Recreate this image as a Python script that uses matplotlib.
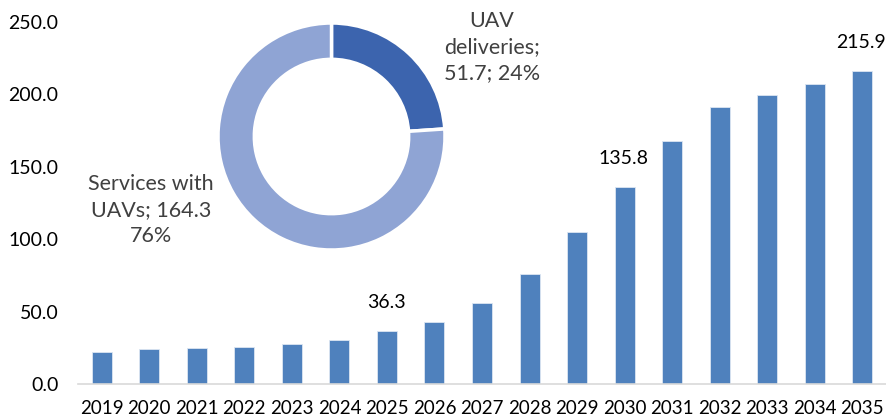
import matplotlib
matplotlib.use("Agg")
import matplotlib.pyplot as plt

years = [str(y) for y in range(2019, 2036)]
values = [22.1, 24.0, 24.9, 25.8, 27.6, 30.4, 36.3, 42.6, 55.7, 75.7, 104.7,
          135.8, 167.8, 191.3, 199.8, 207.4, 215.9]
labeled_years = ["2025", "2030", "2035"]
y_ticks = [0, 50, 100, 150, 200, 250]

donut_labels = ["UAV\ndeliveries;\n51.7; 24%", "Services with\nUAVs; 164.3\n76%"]
donut_values = [51.7, 164.3]

plt.rcParams['font.family'] = ['Lato', 'DejaVu Sans']

W, H = 887, 418
fig = plt.figure(figsize=(W / 100, H / 100), dpi=100)
ax = fig.add_axes([78 / W, 1 - 384 / H, (886 - 78) / W, (384 - 22) / H])

x = list(range(len(years)))
ax.bar(x, values, width=0.42, color="#4F81BD", edgecolor="#DCE6F2", linewidth=0.6, zorder=2)
ax.set_xlim(-0.5, len(years) - 0.5)
ax.set_ylim(0, 250)
ax.set_xticks(x)
ax.set_xticklabels(years, fontsize=13.5, color="black")
ax.set_yticks(y_ticks)
ax.set_yticklabels([f"{v:.1f}" for v in y_ticks], fontsize=14, color="black")
ax.tick_params(axis="both", length=0)
ax.tick_params(axis="y", pad=14)
ax.tick_params(axis="x", pad=11.5)
for s in ["top", "right", "left"]:
    ax.spines[s].set_visible(False)
ax.spines["bottom"].set_color("#D9D9D9")
ax.spines["bottom"].set_linewidth(1.2)

for i, (yr, v) in enumerate(zip(years, values)):
    if yr in labeled_years:
        ax.annotate(f"{v:.1f}", xy=(i, v), xytext=(-1, 29), textcoords="offset pixels",
                    ha="center", va="center", fontsize=14, color="black")

# Donut
cx, cy, R = 331.5, 136.5, 113.5
ax2 = fig.add_axes([(cx - R) / W, 1 - (cy + R) / H, 2 * R / W, 2 * R / H])
ax2.pie(donut_values, colors=["#3C64AE", "#8FA4D4"], startangle=90, counterclock=False,
        radius=1, wedgeprops=dict(width=0.32, edgecolor="white", linewidth=2.5))
ax2.set_xlim(-1, 1)
ax2.set_ylim(-1, 1)
ax2.set_aspect("equal")
ax2.axis("off")

fig.text(492 / W, 1 - 47 / H, donut_labels[0], ha="center", va="center",
         fontsize=15.5, color="#404040", linespacing=1.4)
fig.text(151 / W, 1 - 210 / H, donut_labels[1], ha="center", va="center",
         fontsize=15.5, color="#404040", linespacing=1.4)

fig.savefig("out.png", dpi=100)
